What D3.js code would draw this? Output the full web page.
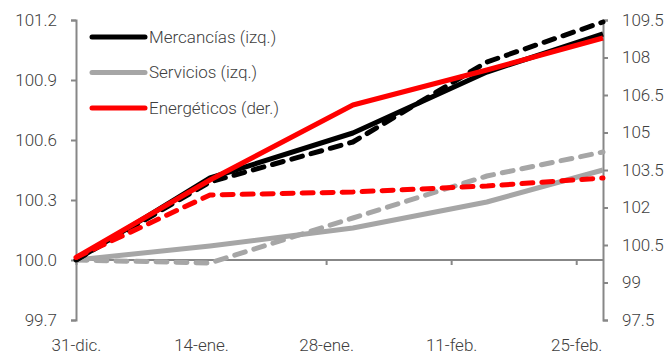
<!DOCTYPE html>
<html>
<head>
<meta charset="utf-8">
<script src="https://cdn.jsdelivr.net/npm/d3@7"></script>
<style>
  html, body { margin: 0; padding: 0; background: #fff; }
  svg text { font-family: Roboto, "Noto Sans", sans-serif; font-weight: 300; fill: #404040; }
</style>
</head>
<body>
<svg id="chart" width="666" height="356"></svg>
<script>
// Fortnightly observation dates (index, 31-dic = 100)
const dates = ["2021-12-31", "2022-01-15", "2022-01-31", "2022-02-15", "2022-02-28"];

// Left axis series
const mercancias       = [100, 100.41, 100.635, 100.94, 101.13];
const mercanciasPrev   = [100, 100.39, 100.59, 100.99, 101.19];
const servicios        = [100, 100.07, 100.16, 100.29, 100.45];
const serviciosPrev    = [100, 99.985, 100.21, 100.42, 100.54];
// Right axis series
const energeticos      = [100, 103.1, 106.1, 107.5, 108.78];
const energeticosPrev  = [100, 102.5, 102.62, 102.86, 103.18];

const xTickDates  = ["2021-12-31", "2022-01-14", "2022-01-28", "2022-02-11", "2022-02-25"];
const xTickLabels = ["31-dic.", "14-ene.", "28-ene.", "11-feb.", "25-feb."];
const leftTicks   = [99.7, 100.0, 100.3, 100.6, 100.9, 101.2];
const rightTicks  = [97.5, 99, 100.5, 102, 103.5, 105, 106.5, 108, 109.5];

const legendNames = ["Mercancías (izq.)", "Servicios (izq.)", "Energéticos (der.)"];

const parse = d3.utcParse("%Y-%m-%d");
const svg = d3.select("#chart");

const plotLeft = 76, plotRight = 603, plotTop = 20, plotBottom = 320;
const axisColor = "#878787";

const x = d3.scaleUtc()
  .domain([parse("2021-12-31"), parse("2022-02-28")])
  .range([plotLeft, plotRight]);
const yL = d3.scaleLinear().domain([99.7, 101.2]).range([plotBottom, plotTop]);
const yR = d3.scaleLinear().domain([97.5, 109.5]).range([plotBottom, plotTop]);

// Axes
const gL = svg.append("g").attr("transform", `translate(${plotLeft},0)`)
  .call(d3.axisLeft(yL).tickValues(leftTicks).tickFormat(d3.format(".1f")).tickSize(5).tickPadding(14));
const gR = svg.append("g").attr("transform", `translate(${plotRight},0)`)
  .call(d3.axisRight(yR).tickValues(rightTicks).tickFormat(d => d3.format("")(d)).tickSize(5).tickPadding(14));
const gX = svg.append("g").attr("transform", `translate(0,${yL(100)})`)
  .call(d3.axisBottom(x).tickValues(xTickDates.map(parse))
    .tickFormat((d, i) => xTickLabels[i]).tickSize(5).tickSizeOuter(0).tickPadding(0));

[gL, gR, gX].forEach(g => {
  g.select(".domain").attr("stroke", axisColor).attr("stroke-width", 2);
  g.selectAll(".tick line").attr("stroke", axisColor).attr("stroke-width", 2);
  g.selectAll("text").attr("font-size", 17).attr("fill", "#404040")
    .style("font-family", "Roboto, 'Noto Sans', sans-serif").style("font-weight", 300);
});
gX.selectAll(".tick text").attr("y", 0).attr("dy", 0)
  .attr("transform", `translate(0,${351 - yL(100)})`);
gX.select(".domain").attr("d", `M${plotLeft},0H${plotRight}`);

// Lines
const pts = vals => vals.map((v, i) => [parse(dates[i]), v]);
const lineL = d3.line().x(d => x(d[0])).y(d => yL(d[1]));
const lineR = d3.line().x(d => x(d[0])).y(d => yR(d[1]));

const series = [
  { data: servicios,       line: lineL, color: "#a6a6a6", dash: null },
  { data: serviciosPrev,   line: lineL, color: "#a6a6a6", dash: "11,9" },
  { data: mercancias,      line: lineL, color: "#000000", dash: null },
  { data: mercanciasPrev,  line: lineL, color: "#000000", dash: "11,9" },
  { data: energeticosPrev, line: lineR, color: "#ff0000", dash: "11,9" },
  { data: energeticos,     line: lineR, color: "#ff0000", dash: null }
];

svg.append("g").selectAll("path").data(series).join("path")
  .attr("d", s => s.line(pts(s.data)))
  .attr("fill", "none")
  .attr("stroke", s => s.color)
  .attr("stroke-width", 5)
  .attr("stroke-linejoin", "round")
  .attr("stroke-linecap", s => s.dash ? "round" : "butt")
  .attr("stroke-dasharray", s => s.dash);

// Legend
const legendColors = ["#000000", "#a6a6a6", "#ff0000"];
const lg = svg.append("g");
legendNames.forEach((name, i) => {
  const yy = 37 + i * 35.5;
  lg.append("line").attr("x1", 92).attr("x2", 145).attr("y1", yy).attr("y2", yy)
    .attr("stroke", legendColors[i]).attr("stroke-width", 5).attr("stroke-linecap", "round");
  lg.append("text").attr("x", 149).attr("y", yy).attr("dy", "0.35em")
    .attr("font-size", 17).text(name);
});
</script>
</body>
</html>
